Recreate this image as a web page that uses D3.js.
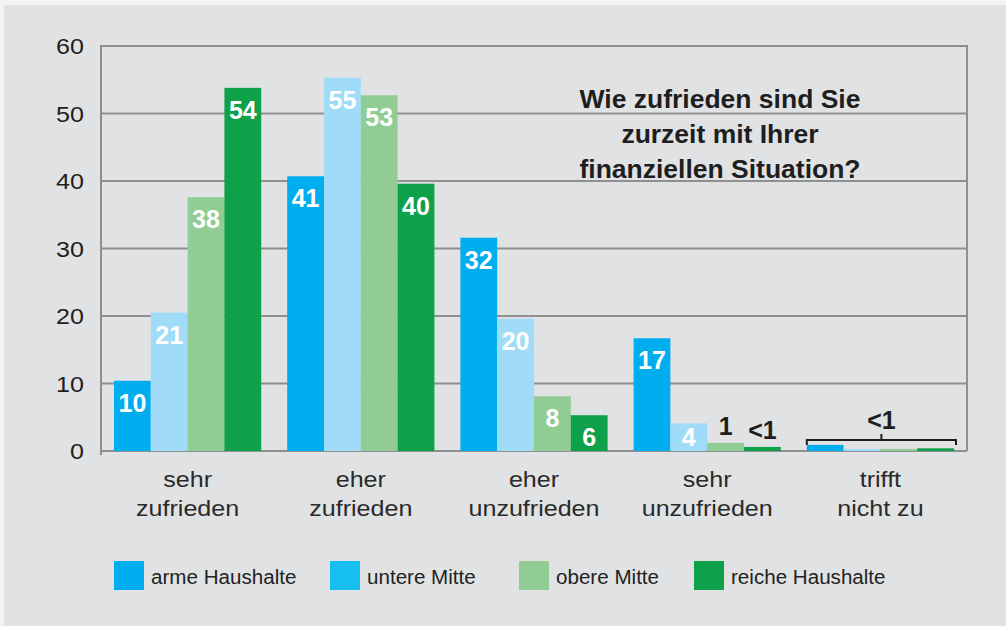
<!DOCTYPE html>
<html>
<head>
<meta charset="utf-8">
<script src="https://cdn.jsdelivr.net/npm/d3@7"></script>
<style>
  html, body { margin: 0; padding: 0; background: #f3f3f3; }
  svg { display: block; }
  text { font-family: "Liberation Sans", Arial, Helvetica, sans-serif; }
</style>
</head>
<body>
<svg id="chart" width="1006" height="626"></svg>
<script>
// ---- data ----
const categories = [["sehr", "zufrieden"], ["eher", "zufrieden"], ["eher", "unzufrieden"], ["sehr", "unzufrieden"], ["trifft", "nicht zu"]];
const seriesNames = ["arme Haushalte", "untere Mitte", "obere Mitte", "reiche Haushalte"];
const arme   = [10.4, 40.7, 31.6, 16.7, 0.9];
const untere = [20.5, 55.3, 19.6, 4.1, 0.3];
const obere  = [37.6, 52.7, 8.1, 1.2, 0.3];
const reiche = [53.8, 39.6, 5.3, 0.6, 0.4];
const armeLabels   = ["10", "41", "32", "17", ""];
const untereLabels = ["21", "55", "20", "4", ""];
const obereLabels  = ["38", "53", "8", "1", ""];
const reicheLabels = ["54", "40", "6", "<1", ""];
const groupLabel = ["", "", "", "", "<1"];   // bracketed label across a whole group
const yTicks = [0, 10, 20, 30, 40, 50, 60];
const title = ["Wie zufrieden sind Sie", "zurzeit mit Ihrer", "finanziellen Situation?"];

const barColors = ["#00adef", "#a0dcf7", "#90cc93", "#0fa04a"];
const legendColors = ["#00adef", "#17bff1", "#90cc93", "#0fa04a"];

const seriesValues = [arme, untere, obere, reiche];
const seriesLabels = [armeLabels, untereLabels, obereLabels, reicheLabels];

// ---- layout ----
const svg = d3.select("#chart");
svg.append("rect").attr("x", 4).attr("y", 5).attr("width", 1002).attr("height", 621).attr("fill", "#e1e2e4");

const plotLeft = 101, plotRight = 967, plotTop = 46, plotBottom = 451;
const catKeys = categories.map((c, i) => "c" + i);
const x = d3.scaleBand().domain(catKeys).range([plotLeft, plotRight]).paddingInner(0.15).paddingOuter(0.075);
const xs = d3.scaleBand().domain(seriesNames).range([0, x.bandwidth()]);
const y = d3.scaleLinear().domain([0, 60]).range([plotBottom, plotTop]);

function stretched(sel, sx) {
  sel.attr("transform", function () {
    const tx = +this.getAttribute("data-x"), ty = +this.getAttribute("data-y");
    return `translate(${tx},${ty}) scale(${sx},1)`;
  });
}

// gridlines
const gridColor = "#8f8f8f";
svg.append("g").selectAll("line").data(yTicks).join("line")
  .attr("x1", plotLeft).attr("x2", plotRight)
  .attr("y1", d => y(d)).attr("y2", d => y(d))
  .attr("stroke", gridColor).attr("stroke-width", 2);

// right border + left axis
svg.append("line").attr("x1", plotRight).attr("x2", plotRight).attr("y1", y(60) - 1).attr("y2", y(0))
  .attr("stroke", gridColor).attr("stroke-width", 2);
svg.append("line").attr("x1", plotLeft).attr("x2", plotLeft).attr("y1", y(60) - 1).attr("y2", y(0) + 4)
  .attr("stroke", gridColor).attr("stroke-width", 2);

// y tick labels
svg.append("g").selectAll("text").data(yTicks).join("text")
  .attr("data-x", 84).attr("data-y", d => y(d) + 8)
  .attr("text-anchor", "end").attr("font-size", 22).attr("fill", "#1e1e1e")
  .text(d => d)
  .call(stretched, 1.14);

// bars
const groups = svg.append("g").selectAll("g").data(categories).join("g")
  .attr("transform", (d, i) => `translate(${x(catKeys[i])},0)`);

groups.each(function (cat, ci) {
  const g = d3.select(this);
  seriesNames.forEach((s, si) => {
    const v = seriesValues[si][ci];
    g.append("rect")
      .attr("x", xs(s)).attr("width", xs.bandwidth())
      .attr("y", y(v)).attr("height", y(0) - y(v))
      .attr("fill", barColors[si]);
    const lab = seriesLabels[si][ci];
    if (lab) {
      const inside = v >= 3;
      g.append("text")
        .attr("x", xs(s) + xs.bandwidth() / 2)
        .attr("y", inside ? Math.min(y(v) + 31, plotBottom - 5) : y(v) - 8)
        .attr("text-anchor", "middle")
        .attr("font-size", 25).attr("font-weight", "bold")
        .attr("fill", inside ? "#ffffff" : "#1e1e1e")
        .text(lab);
    }
  });
  if (groupLabel[ci]) {
    const x0 = 0, x1 = x.bandwidth() + 2, mid = (x0 + x1) / 2, by = plotBottom - 11;
    g.append("path")
      .attr("d", `M${x0},${by + 5}V${by}H${x1}V${by + 5}M${mid},${by}V${by - 6}`)
      .attr("fill", "none").attr("stroke", "#1e1e1e").attr("stroke-width", 2);
    g.append("text").attr("x", mid).attr("y", by - 11)
      .attr("text-anchor", "middle").attr("font-size", 25).attr("font-weight", "bold")
      .attr("fill", "#1e1e1e").text(groupLabel[ci]);
  }
});

// x labels
const xl = svg.append("g");
categories.forEach((c, ci) => {
  c.forEach((line, li) => {
    xl.append("text")
      .attr("data-x", x(catKeys[ci]) + x.bandwidth() / 2)
      .attr("data-y", 487 + li * 29)
      .attr("text-anchor", "middle").attr("font-size", 22).attr("fill", "#2a2a2a")
      .text(line)
      .call(stretched, 1.14);
  });
});

// title
svg.append("g").selectAll("text").data(title).join("text")
  .attr("data-x", 720).attr("data-y", (d, i) => 108 + i * 35)
  .attr("text-anchor", "middle").attr("font-size", 25).attr("font-weight", "bold")
  .attr("fill", "#1e1e1e").text(d => d)
  .call(stretched, 1.06);

// legend
const legendX = [114, 330, 519, 694];
const lg = svg.append("g").selectAll("g").data(seriesNames).join("g")
  .attr("transform", (d, i) => `translate(${legendX[i]},561)`);
lg.append("rect").attr("width", 30).attr("height", 29).attr("fill", (d, i) => legendColors[i]);
lg.append("text").attr("data-x", 37).attr("data-y", 23)
  .attr("font-size", 20).attr("fill", "#222").text(d => d)
  .call(stretched, 1.03);
</script>
</body>
</html>
